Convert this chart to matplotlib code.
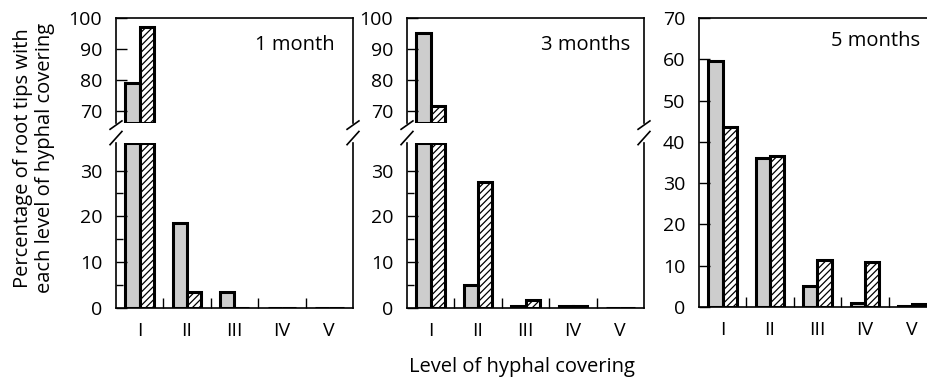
import numpy as np
import matplotlib.pyplot as plt

plt.rcParams['font.family'] = ['Open Sans', 'DejaVu Sans']
plt.rcParams['hatch.linewidth'] = 0.9

categories = ['I', 'II', 'III', 'IV', 'V']
m1_gray = [79, 18.5, 3.5, 0, 0]
m1_hatch = [97, 3.5, 0, 0, 0]
m3_gray = [95, 5, 0.5, 0.5, 0]
m3_hatch = [71.5, 27.5, 1.8, 0.5, 0]
m5_gray = [59.5, 36, 5, 1, 0.3]
m5_hatch = [43.5, 36.5, 11.3, 10.8, 0.8]
panel_titles = ['1 month', '3 months', '5 months']

W, H = 928, 385
fig = plt.figure(figsize=(W / 100, H / 100), dpi=100)

x = np.arange(1, len(categories) + 1)
bw = 0.3
gray = '#cdcdcd'
lw_bar = 2.2
fs = 14
fs_txt = 14.5

def px(x0, y0, w, h):
    return [x0 / W, 1 - (y0 + h) / H, w / W, h / H]

def style(ax, show_x):
    ax.set_xlim(0.5, 5.5)
    ax.tick_params(axis='y', which='both', direction='in', labelsize=fs, pad=10)
    ax.tick_params(axis='y', which='major', length=8, width=1)
    ax.tick_params(axis='y', which='minor', length=5, width=1)
    for s in ax.spines.values():
        s.set_linewidth(1.2)
    if show_x:
        ax.set_xticks(x)
        ax.set_xticklabels(categories, fontsize=fs)
        ax.tick_params(axis='x', which='major', length=0, pad=10)
        ax.set_xticks(x[:-1] + 0.5, minor=True)
        ax.tick_params(axis='x', which='minor', direction='in', length=7, width=1)
    else:
        ax.set_xticks([])

def bars(ax, g, h, lo, hi):
    g = np.asarray(g, float)
    h = np.asarray(h, float)
    mg = g > lo if lo > 0 else np.ones_like(g, bool)
    mh = h > lo if lo > 0 else np.ones_like(h, bool)
    ax.bar(x[mg] - bw / 2, np.clip(g[mg], lo, hi) - lo, bw, bottom=lo, color=gray,
           edgecolor='black', linewidth=lw_bar)
    ax.bar(x[mh] + bw / 2, np.clip(h[mh], lo, hi) - lo, bw, bottom=lo, color='white',
           edgecolor='black', linewidth=lw_bar, hatch='/////')

def brk(ax, y):
    for xx in (0, 1):
        ax.plot([xx - 0.025, xx + 0.025], [y - 0.04, y + 0.04], transform=ax.transAxes,
                color='black', lw=1.2, clip_on=False)

lefts = [116, 407, 699]
aw = 237
data = [(m1_gray, m1_hatch), (m3_gray, m3_hatch), (m5_gray, m5_hatch)]

for i in range(2):
    g, h = data[i]
    up = fig.add_axes(px(lefts[i], 18, aw, 105))
    lo = fig.add_axes(px(lefts[i], 143, aw, 165))
    bars(up, g, h, 66, 100)
    bars(lo, g, h, 0, 36)
    up.set_ylim(66, 100)
    up.set_yticks([70, 80, 90, 100])
    lo.set_ylim(0, 36)
    lo.set_yticks([0, 10, 20, 30])
    lo.set_yticks([5, 15, 25], minor=True)
    style(up, False)
    style(lo, True)
    up.spines['bottom'].set_visible(False)
    lo.spines['top'].set_visible(False)
    brk(up, -0.02)
    brk(lo, 1.03)
    up.text(0.755, 0.74, panel_titles[i], transform=up.transAxes, ha='center',
            va='center', fontsize=fs_txt)

g, h = data[2]
ax3 = fig.add_axes(px(lefts[2], 18, aw, 289))
bars(ax3, g, h, 0, 70)
ax3.set_ylim(0, 70)
ax3.set_yticks(np.arange(0, 71, 10))
style(ax3, True)
ax3.text(0.745, 0.92, panel_titles[2], transform=ax3.transAxes, ha='center',
         va='center', fontsize=fs_txt)

fig.text(34 / W, 1 - 158 / H, 'Percentage of root tips with\neach level of hyphal covering',
         rotation=90, ha='center', va='center', fontsize=fs_txt, linespacing=1.1)
fig.text(522 / W, 1 - 367 / H, 'Level of hyphal covering', ha='center', va='center',
         fontsize=fs_txt)

fig.savefig('out.png', dpi=100)
